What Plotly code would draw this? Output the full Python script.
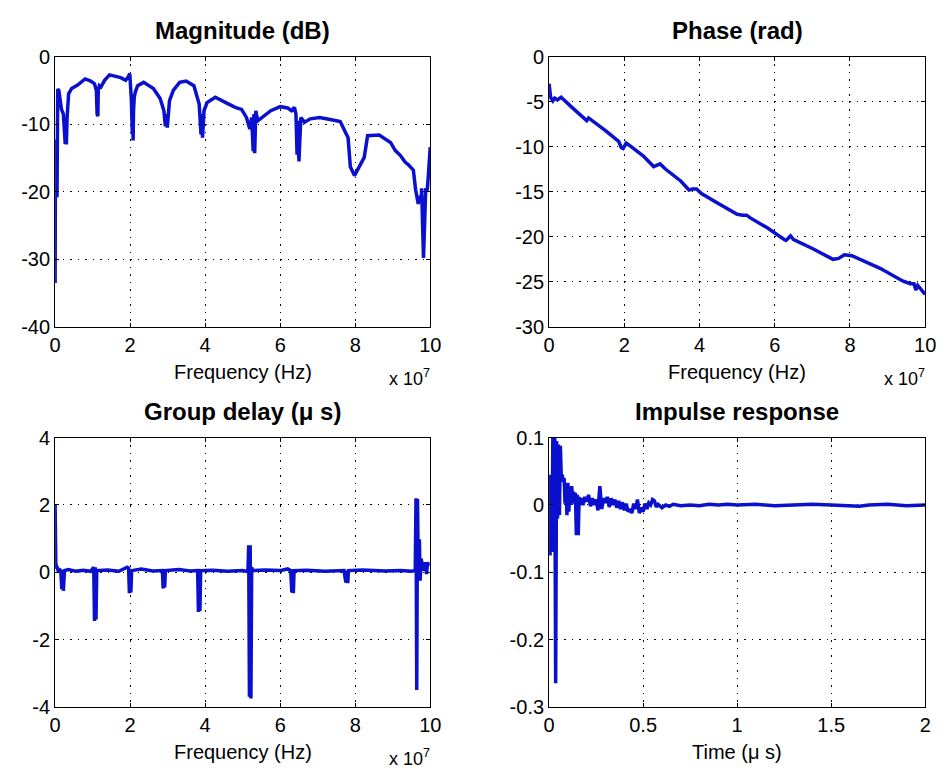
import plotly.graph_objects as go

# ---------------- data (frequencies in units of 1e7 Hz) ----------------
mag_freq_e7 = [0.00, 0.01, 0.02, 0.03, 0.05, 0.06, 0.07, 0.10, 0.13, 0.17, 0.22, 0.27, 0.29, 0.30, 0.32, 0.36,
               0.44, 0.60, 0.80, 0.95, 1.05, 1.10, 1.12, 1.13, 1.14, 1.15, 1.18, 1.22, 1.32, 1.45, 1.75, 1.88, 1.95,
               1.99, 2.03, 2.06, 2.07, 2.08, 2.09, 2.11, 2.14, 2.20, 2.36, 2.62, 2.80, 2.90, 2.94, 2.96, 2.99, 3.05, 3.15,
               3.32, 3.49, 3.70, 3.84, 3.89, 3.90, 3.93, 3.97, 4.05, 4.27, 4.55, 4.80, 4.97, 5.10, 5.19, 5.24,
               5.28, 5.30, 5.32, 5.35, 5.40, 5.55, 5.75, 6.00, 6.20, 6.30, 6.38, 6.42, 6.45, 6.46, 6.50, 6.55, 6.65,
               6.80, 7.05, 7.33, 7.60, 7.81, 7.87, 7.98, 8.24, 8.33, 8.64, 8.94, 9.07, 9.20, 9.33, 9.42,
               9.55, 9.61, 9.68, 9.73, 9.76, 9.77, 9.82, 9.88, 9.92, 9.95, 10.00]
mag_db = [-33.5, -12.3, -29.5, -12.5, -20.8, -12.5, -4.8, -5.0, -6.5, -7.8, -8.5, -12.9, -9.5, -13.0, -9.0, -5.5,
          -4.7, -4.2, -3.3, -3.6, -4.0, -5.0, -8.5, -5.5, -8.8, -5.0, -4.3, -4.5, -3.5, -2.7, -3.1, -3.5, -3.0,
          -2.5, -6.0, -11.5, -6.5, -12.4, -8.0, -6.0, -5.2, -4.3, -3.8, -4.7, -6.2, -8.0, -10.3, -8.5, -10.5, -6.5, -5.0,
          -3.8, -3.6, -4.3, -7.0, -11.5, -8.5, -12.0, -8.0, -6.8, -6.0, -6.8, -7.5, -7.8, -9.0, -10.7, -9.0,
          -14.0, -8.5, -14.3, -8.0, -9.5, -8.8, -8.0, -7.4, -7.6, -8.0, -7.5, -8.5, -14.5, -9.5, -15.5, -9.0, -9.7, -9.2,
          -9.0, -9.3, -9.6, -12.0, -16.3, -17.6, -14.9, -11.7, -11.6, -12.7, -13.9, -14.6, -15.6, -16.0, -16.8,
          -19.7, -21.8, -20.6, -21.5, -19.5, -29.8, -19.5, -19.8, -17.5, -13.4, -10.8]

ph_freq_e7 = [0.00, 0.02, 0.04, 0.10, 0.15, 0.22, 0.32, 0.60, 0.95, 1.00, 1.05, 1.15, 1.50, 1.85, 1.92,
              1.97, 2.05, 2.12, 2.50, 2.78, 2.85, 2.95, 3.10, 3.50, 3.72, 3.82, 3.92, 4.05, 4.50, 5.00,
              5.15, 5.25, 5.35, 5.80, 6.25, 6.30, 6.42, 6.50, 7.00, 7.55, 7.70, 7.85, 8.05, 8.20, 8.80,
              9.40, 9.60, 9.70, 9.75, 9.80, 9.90, 10.00]
ph_rad = [-3.0, -4.2, -4.5, -4.9, -4.6, -4.8, -4.5, -5.6, -6.9, -7.1, -6.8, -7.1, -8.2, -9.4, -10.1,
          -10.2, -9.6, -9.8, -11.0, -12.2, -12.1, -11.9, -12.5, -13.8, -14.8, -14.7, -14.7, -15.2, -16.3, -17.5,
          -17.6, -17.6, -17.9, -19.0, -20.3, -20.4, -19.9, -20.3, -21.3, -22.5, -22.4, -22.0, -22.1, -22.4, -23.5,
          -24.9, -25.2, -25.2, -25.9, -25.4, -25.9, -26.4]

gd_freq_e7 = [0.000, 0.005, 0.02, 0.05, 0.08, 0.12, 0.15, 0.18, 0.20, 0.22, 0.25, 0.35, 0.55, 0.75, 0.95,
              1.03, 1.05, 1.07, 1.09, 1.11, 1.40, 1.70, 1.92, 1.96, 1.98, 2.00, 2.02, 2.04, 2.30, 2.60,
              2.86, 2.88, 2.90, 2.92, 2.94, 3.30, 3.60, 3.80, 3.82, 3.84, 3.86, 3.88, 4.20, 4.60, 5.00,
              5.14, 5.16, 5.18, 5.20, 5.22, 5.24, 5.27, 5.60, 6.00, 6.20, 6.28, 6.31, 6.33, 6.35, 6.37,
              6.70, 7.20, 7.70, 7.75, 7.77, 7.80, 7.82, 8.20, 8.80, 9.20, 9.50, 9.60, 9.62, 9.64, 9.66,
              9.68, 9.71, 9.73, 9.76, 9.80, 9.86, 9.90, 9.93, 9.95]
gd_us = [2.00, 0.20, 0.12, 0.15, 0.05, 0.08, 0.05, -0.50, 0.05, -0.55, 0.05, 0.08, 0.03, 0.06, 0.03,
         0.15, -1.45, 0.15, -1.40, 0.05, 0.07, 0.03, 0.15, 0.12, -0.62, 0.05, -0.60, 0.05, 0.10, 0.04,
         0.05, -0.48, 0.05, -0.45, 0.05, 0.08, 0.04, 0.05, -1.18, 0.05, -1.15, 0.05, 0.06, 0.03, 0.05,
         0.02, 0.80, -3.70, 0.80, -3.75, 0.15, 0.05, 0.07, 0.05, 0.10, 0.05, -0.60, 0.05, -0.62, 0.05,
         0.06, 0.03, 0.05, -0.30, 0.05, -0.32, 0.05, 0.07, 0.04, 0.05, 0.03, 0.05, 2.20, -3.50, 2.18,
         0.10, 0.98, -0.25, 0.40, 0.05, 0.30, -0.05, 0.30, 0.20]

imp_time_us = [0.000, 0.005, 0.010, 0.015, 0.020, 0.025, 0.030, 0.035, 0.040, 0.045, 0.050, 0.055, 0.060,
               0.065, 0.070, 0.075, 0.080, 0.085, 0.090, 0.095, 0.100, 0.105, 0.110, 0.115, 0.120, 0.125,
               0.130, 0.135, 0.140, 0.145, 0.150, 0.155, 0.160, 0.165, 0.170, 0.180, 0.190, 0.200, 0.210,
               0.220, 0.230, 0.240, 0.250, 0.260, 0.270, 0.280, 0.290, 0.300, 0.310, 0.320, 0.330, 0.340,
               0.350, 0.360, 0.370, 0.380, 0.390, 0.400, 0.410, 0.420, 0.430, 0.440, 0.450, 0.460, 0.470,
               0.480, 0.490, 0.500, 0.510, 0.520, 0.530, 0.540, 0.550, 0.560, 0.570, 0.580, 0.600, 0.620,
               0.640, 0.660, 0.700, 0.750, 0.800, 0.850, 0.900, 0.950, 1.000, 1.100, 1.200, 1.300, 1.400,
               1.500, 1.600, 1.650, 1.700, 1.800, 1.900, 2.000]
imp_amp = [0.045, -0.075, 0.040, -0.070, 0.100, -0.020, 0.100, -0.265, 0.095, -0.020, 0.090, -0.015, 0.088,
           0.040, 0.045, 0.035, 0.040, 0.002, 0.030, -0.015, 0.033, -0.010, 0.025, 0.000, 0.028, 0.010,
           0.020, 0.002, 0.018, -0.045, 0.015, -0.045, 0.012, 0.002, 0.010, 0.000, 0.012, 0.005, 0.015,
           -0.002, 0.010, 0.000, 0.008, -0.008, 0.028, -0.006, 0.010, 0.003, 0.012, -0.003, 0.010, 0.000,
           0.008, -0.004, 0.006, -0.006, 0.004, -0.008, 0.002, -0.010, -0.006, -0.012, 0.002, -0.006, 0.008,
           -0.012, -0.004, -0.010, 0.002, -0.006, 0.003, 0.000, 0.008, 0.006, -0.003, 0.001, -0.004, 0.000,
           -0.002, 0.001, -0.001, 0.000, -0.001, 0.001, 0.000, 0.001, 0.000, 0.001, -0.001, 0.000, 0.001,
           0.000, -0.001, -0.002, 0.000, 0.001, -0.001, 0.000]

freq_ticks = [0, 2, 4, 6, 8, 10]
freq_ticktext = ["0", "2", "4", "6", "8", "10"]
mag_ticks = [0, -10, -20, -30, -40]
mag_ticktext = ["0", "-10", "-20", "-30", "-40"]
ph_ticks = [0, -5, -10, -15, -20, -25, -30]
ph_ticktext = ["0", "-5", "-10", "-15", "-20", "-25", "-30"]
gd_ticks = [4, 2, 0, -2, -4]
gd_ticktext = ["4", "2", "0", "-2", "-4"]
imp_yticks = [0.1, 0, -0.1, -0.2, -0.3]
imp_yticktext = ["0.1", "0", "-0.1", "-0.2", "-0.3"]
time_ticks = [0, 0.5, 1, 1.5, 2]
time_ticktext = ["0", "0.5", "1", "1.5", "2"]

titles = ["Magnitude (dB)", "Phase (rad)", "Group delay (\u03bc s)", "Impulse response"]
xlabels = ["Frequency (Hz)", "Frequency (Hz)", "Frequency (Hz)", "Time (\u03bc s)"]

# ---------------- figure ----------------
W, H = 948, 784
LINE = "rgb(10,16,205)"
FONT = "Liberation Sans, Arial, sans-serif"

def px_x(p):
    return p / W

def px_y(p):
    return 1 - p / H

# plot-area boxes in pixels: (left, right, top, bottom)
boxes = [(50, 432, 47, 325), (553, 936, 47, 325), (50, 432, 439, 716), (553, 936, 439, 716)]

fig = go.Figure()
series = [(mag_freq_e7, mag_db), (ph_freq_e7, ph_rad), (gd_freq_e7, gd_us), (imp_time_us, imp_amp)]
xranges = [[0, 10], [0, 10], [0, 10], [0, 2]]
yranges = [[-40, 0], [-30, 0], [-4, 4], [-0.3, 0.1]]
xt = [(freq_ticks, freq_ticktext)] * 3 + [(time_ticks, time_ticktext)]
yt = [(mag_ticks, mag_ticktext), (ph_ticks, ph_ticktext), (gd_ticks, gd_ticktext), (imp_yticks, imp_yticktext)]

axis_common = dict(showline=True, linecolor="black", linewidth=1, mirror="ticks",
                   ticks="inside", ticklen=4, tickcolor="black", zeroline=False,
                   showgrid=True, gridcolor="black", gridwidth=1, griddash="1.5px,6px",
                   tickfont=dict(family=FONT, size=20, color="black"), fixedrange=True)

for i, ((xs, ys), (l, r, t, b)) in enumerate(zip(series, boxes)):
    n = "" if i == 0 else str(i + 1)
    fig.add_trace(go.Scatter(x=xs, y=ys, mode="lines", line=dict(color=LINE, width=3.5),
                             xaxis="x" + n, yaxis="y" + n, showlegend=False, hoverinfo="skip"))
    fig.layout["xaxis" + n] = dict(axis_common, domain=[px_x(l), px_x(r)], range=xranges[i],
                                   anchor="y" + n, tickvals=xt[i][0], ticktext=xt[i][1])
    fig.layout["yaxis" + n] = dict(axis_common, domain=[px_y(b), px_y(t)], range=yranges[i],
                                   anchor="x" + n, tickvals=yt[i][0], ticktext=yt[i][1])

annotations = []
for i, (l, r, t, b) in enumerate(boxes):
    cx = (l + r) / 2
    annotations.append(dict(text="<b>" + titles[i] + "</b>", x=px_x(cx), y=px_y(t - 27),
                            xref="paper", yref="paper", xanchor="center", yanchor="middle",
                            showarrow=False, font=dict(family=FONT, size=24, color="black")))
    annotations.append(dict(text=xlabels[i], x=px_x(cx), y=px_y(b + 46),
                            xref="paper", yref="paper", xanchor="center", yanchor="middle",
                            showarrow=False, font=dict(family=FONT, size=20, color="black")))
    if i < 3:
        annotations.append(dict(text="x 10<sup>7</sup>", x=px_x(r + 2), y=px_y(b + 52),
                                xref="paper", yref="paper", xanchor="right", yanchor="middle",
                                showarrow=False, font=dict(family=FONT, size=18, color="black")))

fig.update_layout(width=W, height=H, margin=dict(l=0, r=0, t=0, b=0),
                  paper_bgcolor="white", plot_bgcolor="white", annotations=annotations,
                  font=dict(family=FONT, color="black"))

fig.write_html("out.html")
